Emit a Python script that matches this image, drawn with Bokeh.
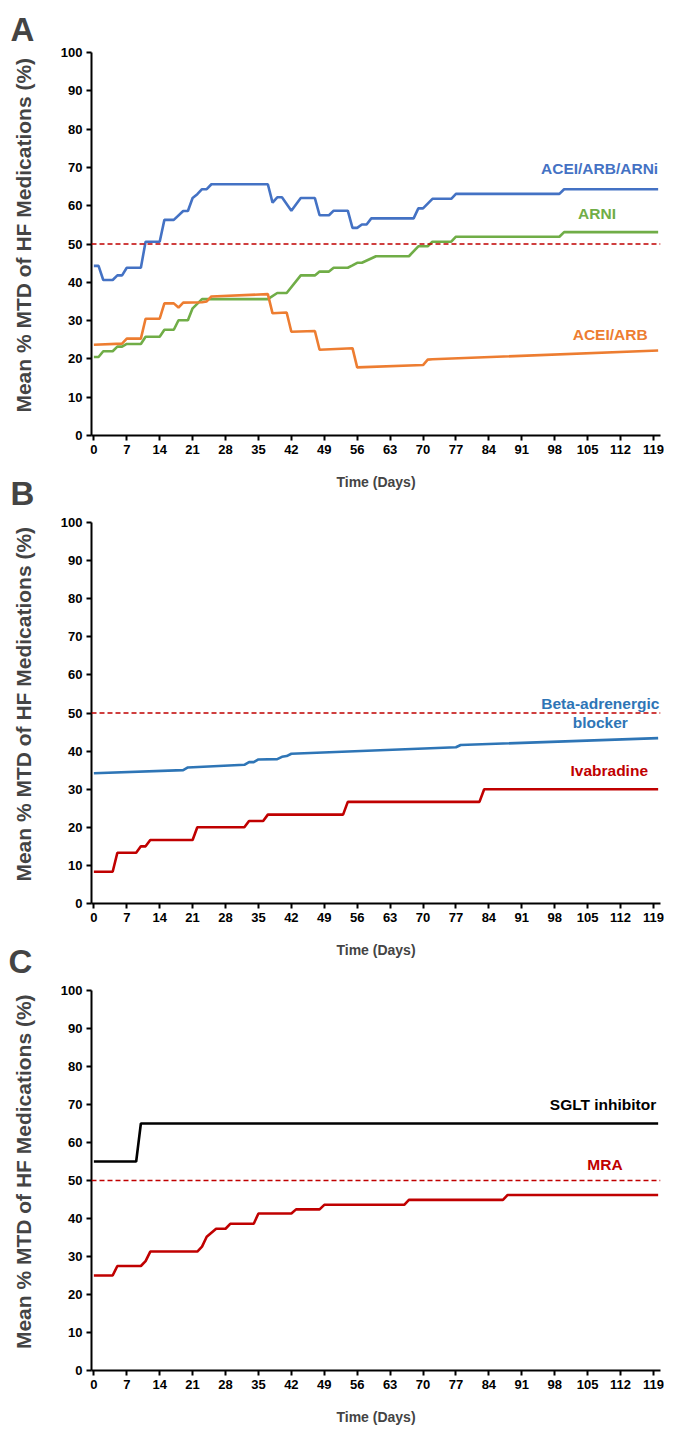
from bokeh.plotting import figure
from bokeh.models import Label, FixedTicker, Span, Range1d
from bokeh.layouts import column
from bokeh.embed import file_html
from bokeh.resources import INLINE

# ---------------- data ----------------
X_TICKS = list(range(0, 120, 7))
Y_TICKS = list(range(0, 101, 10))
TARGET = 50

# Panel A
acei_arb_arni_days = [0, 1, 2, 4, 5, 6, 7, 10, 11, 14, 15, 17, 19, 20, 21, 22, 23, 24, 25, 37,
                      38, 39, 40, 42, 44, 47, 48, 50, 51, 54, 55, 56, 57, 58, 59, 68, 69, 70, 72, 76,
                      77, 99, 100, 120]
acei_arb_arni_vals = [44.3, 44.3, 40.6, 40.6, 41.8, 41.8, 43.8, 43.8, 50.6, 50.6, 56.3, 56.3, 58.6, 58.6, 62.0, 63.0, 64.3, 64.3, 65.6, 65.6,
                      60.8, 62.2, 62.2, 58.7, 62.0, 62.0, 57.5, 57.5, 58.7, 58.7, 54.2, 54.2, 55.1, 55.1, 56.7, 56.7, 59.3, 59.3, 61.8, 61.8,
                      63.1, 63.1, 64.3, 64.3]

arni_days = [0, 1, 2, 4, 5, 6, 7, 10, 11, 14, 15, 17, 18, 20, 21, 23, 37, 39, 41, 44,
             47, 48, 50, 51, 54, 55, 56, 57, 60, 67, 69, 71, 72, 76, 77, 99, 100, 120]
arni_vals = [20.5, 20.5, 22.0, 22.0, 23.2, 23.2, 23.9, 23.9, 25.8, 25.8, 27.6, 27.6, 30.1, 30.1, 33.2, 35.6, 35.6, 37.2, 37.2, 41.8,
             41.8, 42.8, 42.8, 43.8, 43.8, 44.4, 45.1, 45.1, 46.8, 46.8, 49.4, 49.4, 50.6, 50.6, 51.9, 51.9, 53.1, 53.1]

acei_arb_days = [0, 6, 7, 10, 11, 14, 15, 17, 18, 19, 23, 24, 25, 37, 38, 41, 42, 47, 48, 55,
                 56, 70, 71, 72, 120]
acei_arb_vals = [23.7, 24.0, 25.3, 25.3, 30.5, 30.5, 34.5, 34.5, 33.4, 34.7, 34.8, 35.0, 36.3, 36.9, 31.9, 32.1, 27.1, 27.3, 22.4, 22.8,
                 17.8, 18.4, 19.8, 19.9, 22.2]

# Panel B
beta_days = [0, 19, 20, 32, 33, 34, 35, 39, 40, 41, 42, 77, 78, 120]
beta_vals = [34.2, 35.0, 35.7, 36.4, 37.1, 37.1, 37.8, 37.9, 38.5, 38.7, 39.3, 41.0, 41.6, 43.4]

ivab_days = [0, 4, 5, 9, 10, 11, 12, 21, 22, 32, 33, 36, 37, 53, 54, 82, 83, 120]
ivab_vals = [8.33, 8.33, 13.33, 13.33, 15.0, 15.0, 16.67, 16.67, 20.0, 20.0, 21.67, 21.67, 23.33, 23.33, 26.67, 26.67, 30.0, 30.0]

# Panel C
sglt_days = [0, 9, 10, 120]
sglt_vals = [55.0, 55.0, 65.0, 65.0]

mra_days = [0, 4, 5, 10, 11, 12, 22, 23, 24, 26, 28, 29, 34, 35, 42, 43, 48, 49, 66, 67,
            87, 88, 120]
mra_vals = [25.0, 25.0, 27.5, 27.5, 28.8, 31.3, 31.3, 32.6, 35.2, 37.3, 37.3, 38.6, 38.6, 41.3, 41.3, 42.4, 42.4, 43.6, 43.6, 44.9,
            44.9, 46.2, 46.2]

# ---------------- style ----------------
SANS = "Liberation Sans"
C_BLUE = "#4472C4"
C_GREEN = "#70AD47"
C_ORANGE = "#ED7D31"
C_RED = "#C00000"
C_STEEL = "#2E75B6"
Y_TITLE = "\u00a0\u00a0\u00a0Mean % MTD of HF Medications (%)"
W = 664
LW = 2.6


def make_panel(height, top, bottom, letter, letter_offset, letter_standoff,
               left=89, margin=None):
    kw = {}
    if margin is not None:
        kw["margin"] = margin
    p = figure(width=W, height=height, x_range=Range1d(-0.5, 120.5), y_range=Range1d(0, 100),
               output_backend="svg", toolbar_location=None,
               min_border_left=left, min_border_right=W - left - 571,
               min_border_top=top, min_border_bottom=bottom, **kw)
    p.outline_line_color = None
    p.grid.visible = False
    p.background_fill_color = "white"
    p.border_fill_color = None
    for ax in (p.xaxis, p.yaxis):
        ax.axis_line_width = 2
        ax.axis_line_color = "black"
        ax.major_tick_line_width = 2
        ax.major_tick_line_color = "black"
        ax.major_tick_in = 0
        ax.major_tick_out = 5
        ax.minor_tick_line_color = None
        ax.major_label_text_font = SANS
        ax.major_label_text_font_style = "bold"
        ax.major_label_text_font_size = "13px"
        ax.major_label_text_color = "black"
        ax.major_label_standoff = 4
    p.xaxis.ticker = FixedTicker(ticks=X_TICKS)
    p.yaxis.ticker = FixedTicker(ticks=Y_TICKS)
    p.xaxis.axis_label = "Time (Days)"
    p.xaxis.axis_label_text_font = SANS
    p.xaxis.axis_label_text_font_style = "bold"
    p.xaxis.axis_label_text_font_size = "14px"
    p.xaxis.axis_label_standoff = 17
    p.yaxis.axis_label = Y_TITLE
    p.yaxis.axis_label_text_font = SANS
    p.yaxis.axis_label_text_font_style = "bold"
    p.yaxis.axis_label_text_font_size = "21px"
    p.yaxis.axis_label_standoff = 23
    # panel letter
    p.title.text = letter
    p.title.align = "left"
    p.title.offset = letter_offset
    p.title.standoff = letter_standoff
    p.title.text_font = SANS
    p.title.text_font_style = "bold"
    p.title.text_font_size = "33px"
    p.add_layout(Span(location=TARGET, dimension="width", line_color=C_RED,
                      line_dash="5 3", line_width=1.5))
    return p


def series_label(p, text, x, y, color, align="center"):
    p.add_layout(Label(x=x, y=y, text=text, text_color=color, text_font=SANS,
                       text_font_style="bold", text_font_size="15.5px",
                       text_align=align, text_baseline="middle"))


# Panel A
pa = make_panel(492, 52, 57, "A", -81, 10)
pa.line(acei_arb_arni_days, acei_arb_arni_vals, line_color=C_BLUE, line_width=LW)
pa.line(arni_days, arni_vals, line_color=C_GREEN, line_width=LW)
pa.line(acei_arb_days, acei_arb_vals, line_color=C_ORANGE, line_width=LW)
series_label(pa, "ACEI/ARB/ARNi", 120.0, 69.8, C_BLUE, align="right")
series_label(pa, "ARNI", 107.0, 58.0, C_GREEN)
series_label(pa, "ACEI/ARB", 109.8, 26.4, C_ORANGE)

# Panel B (pulled up so that its letter sits beside panel A's axis title)
pb = make_panel(499, 61, 57, "B", -81, 22, margin=(-31, 0, 0, 0))
pb.line(beta_days, beta_vals, line_color=C_STEEL, line_width=LW)
pb.line(ivab_days, ivab_vals, line_color=C_RED, line_width=LW)
series_label(pb, "Beta-adrenergic", 107.7, 52.5, C_STEEL)
series_label(pb, "blocker", 107.7, 47.4, C_STEEL)
series_label(pb, "Ivabradine", 109.6, 35.0, C_RED)

# Panel C
pc = make_panel(498, 61, 54, "C", -83, 22, left=91, margin=(-31, 0, 0, 0))
pc.line(sglt_days, sglt_vals, line_color="black", line_width=LW)
pc.line(mra_days, mra_vals, line_color=C_RED, line_width=LW)
series_label(pc, "SGLT inhibitor", 119.6, 70.0, "black", align="right")
series_label(pc, "MRA", 108.7, 54.3, C_RED)

layout = column(pa, pb, pc, spacing=0)
open("out.html", "w").write(file_html(layout, INLINE))
